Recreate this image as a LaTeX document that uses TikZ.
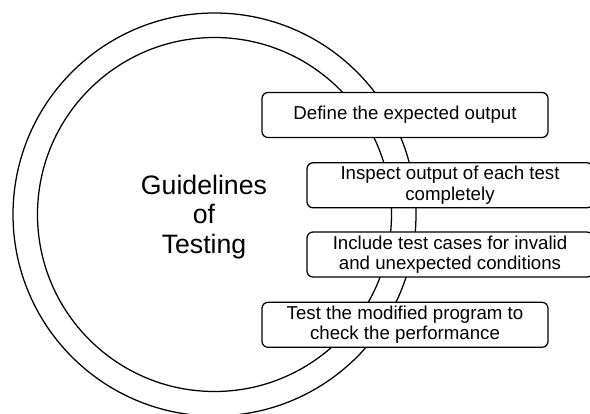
\documentclass[tikz,border=0pt]{standalone}
\usepackage{fontspec}
\setmainfont{Liberation Sans}
\usetikzlibrary{positioning}

\begin{document}
\begin{tikzpicture}[
x=0.75pt, y=-0.75pt,
ringnode/.style={circle, draw=black, line width=0.95pt, fill=white, inner sep=0pt},
stepbox/.style={rectangle, rounded corners=4.5pt, draw=black, line width=0.95pt, fill=white, minimum width=214.5pt, minimum height=33.75pt, inner sep=2pt, align=center, font=\fontsize{14}{15.5}\selectfont},
]
\useasboundingbox (0,0) rectangle (590,414);
\clip (0,0) rectangle (590,414);

\node[ringnode, minimum size=302.25pt] (Outer) at (214.5,214.5) {};
\node[ringnode, minimum size=265.5pt]  (Inner) at (214.5,214.5) {};
\node[align=center, font=\fontsize{20}{22}\selectfont] (Title) at (204,217) {Guidelines\\of\\Testing};

\node[stepbox] (Define)  at (405,115)                              {Define the expected output};
\node[stepbox] (Inspect) [below=18pt of Define, xshift=33.75pt]    {Inspect output of each test\\completely};
\node[stepbox] (Include) [below=17.25pt of Inspect]                {Include test cases for invalid\\and unexpected conditions};
\node[stepbox] (Modify)  [below=18pt of Include, xshift=-33.75pt]  {Test the modified program to\\check the performance};

\end{tikzpicture}
\end{document}
